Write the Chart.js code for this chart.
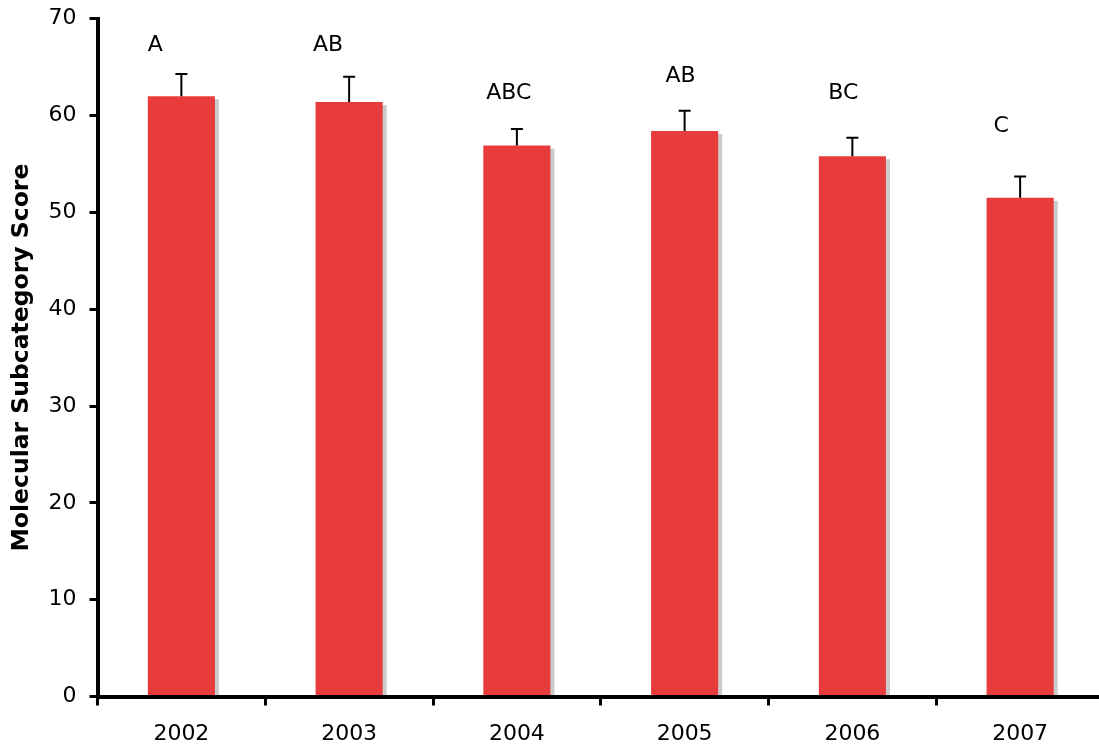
<!DOCTYPE html>
<html>
<head>
<meta charset="utf-8">
<script src="https://cdn.jsdelivr.net/npm/chart.js@4/dist/chart.umd.min.js"></script>
<style>
  html, body { margin: 0; padding: 0; background: #fff; overflow: hidden; }
  canvas { display: block; }
</style>
</head>
<body>
<canvas id="chart" width="1110" height="749"></canvas>
<script>
// Survey years and mean scores with standard errors
const years = ['2002', '2003', '2004', '2005', '2006', '2007'];
const meanScores = [62.0, 61.4, 56.9, 58.4, 55.8, 51.5];
const stdErrors = [2.3, 2.6, 1.7, 2.1, 1.9, 2.2];

// Significance groupings and the score level each letter sits at
const groupLetters = ['A', 'AB', 'ABC', 'AB', 'BC', 'C'];
const letterLevels = [67.3, 67.3, 62.3, 64.1, 62.3, 58.9];

// Axis range
const yMin = 0;
const yMax = 70;
const yStep = 10;

// Horizontal nudge (px) for each letter relative to its bar centre
const letterNudge = [-26, -21, -8, -4, -9, -19];

const FONT = '"DejaVu Sans", Verdana, sans-serif';

// Grey drop shadow behind each bar
const barShadow = {
  id: 'barShadow',
  beforeDatasetsDraw(chart) {
    const ctx = chart.ctx;
    const meta = chart.getDatasetMeta(0);
    ctx.save();
    ctx.fillStyle = '#cbcbcb';
    meta.data.forEach(bar => {
      const w = bar.width;
      const top = bar.y + 3;
      ctx.fillRect(bar.x - w / 2 + 4, top, w, bar.base - top);
    });
    ctx.restore();
  }
};

// Upper error whiskers and group letters
const annotations = {
  id: 'annotations',
  afterDatasetsDraw(chart) {
    const ctx = chart.ctx;
    const y = chart.scales.y;
    const meta = chart.getDatasetMeta(0);
    ctx.save();
    ctx.strokeStyle = '#000';
    ctx.lineWidth = 2;
    meta.data.forEach((bar, i) => {
      const yTop = y.getPixelForValue(meanScores[i] + stdErrors[i]);
      const yBase = y.getPixelForValue(meanScores[i]);
      ctx.beginPath();
      ctx.moveTo(bar.x, yBase);
      ctx.lineTo(bar.x, yTop);
      ctx.moveTo(bar.x - 6, yTop);
      ctx.lineTo(bar.x + 6, yTop);
      ctx.stroke();
    });
    ctx.fillStyle = '#000';
    ctx.font = '22px ' + FONT;
    ctx.textAlign = 'center';
    ctx.textBaseline = 'middle';
    meta.data.forEach((bar, i) => {
      ctx.fillText(groupLetters[i], bar.x + letterNudge[i], y.getPixelForValue(letterLevels[i]));
    });
    ctx.restore();
  }
};

new Chart(document.getElementById('chart'), {
  type: 'bar',
  data: {
    labels: years,
    datasets: [{
      data: meanScores,
      backgroundColor: '#e83c3c',
      borderWidth: 0,
      barPercentage: 0.4,
      categoryPercentage: 1.0
    }]
  },
  options: {
    responsive: false,
    animation: false,
    layout: { padding: { top: 18.7, right: 6, left: 0, bottom: 0 } },
    plugins: {
      legend: { display: false },
      tooltip: { enabled: false }
    },
    scales: {
      x: {
        grid: {
          offset: true,
          drawOnChartArea: false,
          color: '#000',
          lineWidth: 3,
          tickLength: 9
        },
        border: { color: '#000', width: 4 },
        ticks: {
          color: '#000',
          font: { family: FONT, size: 22 },
          padding: 16
        },
        afterFit(scale) { scale.height = 52.5; }
      },
      y: {
        min: yMin,
        max: yMax,
        ticks: {
          stepSize: yStep,
          color: '#000',
          font: { family: FONT, size: 22, lineHeight: 0.45 },
          padding: 13
        },
        grid: {
          drawOnChartArea: false,
          color: '#000',
          lineWidth: 3,
          tickLength: 8
        },
        border: { color: '#000', width: 4 },
        title: {
          display: true,
          text: 'Molecular Subcategory Score',
          color: '#000',
          font: { family: FONT, size: 23.5, weight: 'bold' },
          padding: { top: 8, bottom: 0 }
        },
        afterFit(scale) { scale.width = 97.5; }
      }
    }
  },
  plugins: [barShadow, annotations]
});
</script>
</body>
</html>
